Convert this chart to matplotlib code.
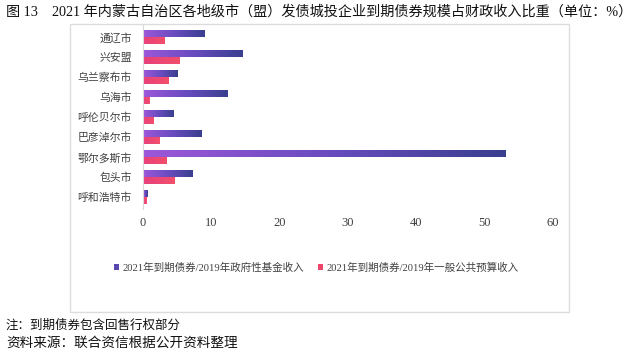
import numpy as np
import matplotlib
matplotlib.use("Agg")
import matplotlib.pyplot as plt
from matplotlib.colors import LinearSegmentedColormap
from matplotlib.patches import Rectangle

plt.rcParams['font.family'] = ['Liberation Serif', 'Noto Sans CJK SC', 'DejaVu Sans']

# data
cities = ['通辽市', '兴安盟', '乌兰察布市', '乌海市', '呼伦贝尔市',
          '巴彦淖尔市', '鄂尔多斯市', '包头市', '呼和浩特市']
fund_ratio = [9.0, 14.6, 5.0, 12.3, 4.4, 8.5, 53.0, 7.3, 0.6]
budget_ratio = [3.2, 5.4, 3.8, 1.0, 1.6, 2.4, 3.5, 4.6, 0.45]
xticks = [0, 10, 20, 30, 40, 50, 60]
label_fund = '2021年到期债券/2019年政府性基金收入'
label_budget = '2021年到期债券/2019年一般公共预算收入'
title = '图 13　2021 年内蒙古自治区各地级市（盟）发债城投企业到期债券规模占财政收入比重（单位：%）'
note = '注：到期债券包含回售行权部分'
source = '资料来源：联合资信根据公开资料整理'

purple_cmap = LinearSegmentedColormap.from_list('pur', ['#9d58da', '#6a4cc0', '#3a3f8f'])
pink_cmap = LinearSegmentedColormap.from_list('pnk', ['#e8407c', '#f24f6c'])

fig = plt.figure(figsize=(6.4, 3.54), dpi=100)

# outer light frame
fig.patches.append(Rectangle((70 / 640, 1 - 312 / 354), (569 - 70) / 640, (312 - 24) / 354,
                             transform=fig.transFigure, fill=False, edgecolor='#dcdcdc', lw=1.0))

ax = fig.add_axes([143 / 640, 1 - 209 / 354, 410 / 640, 184 / 354])

y = np.arange(len(cities))
h = 0.34
bars_f = ax.barh(y - 0.18, fund_ratio, height=h, color='#5a48b0', label=label_fund)
bars_b = ax.barh(y + 0.18, budget_ratio, height=h, color='#f0466e', label=label_budget)

grad = np.linspace(0, 1, 256).reshape(1, -1)
for bars, cmap in ((bars_f, purple_cmap), (bars_b, pink_cmap)):
    for b in bars:
        x0, y0 = b.get_x(), b.get_y()
        w, hh = b.get_width(), b.get_height()
        im = ax.imshow(grad, cmap=cmap, aspect='auto', extent=(x0, x0 + w, y0 + hh, y0),
                       zorder=b.get_zorder() + 0.1)
        im.set_clip_path(b)

ax.set_xlim(0, 60)
ax.set_ylim(8.6, -0.6)
ax.set_xticks(xticks)
ax.set_xticklabels([str(t) for t in xticks], fontsize=9, color='#404040')
ax.set_yticks(y)
ax.set_yticklabels(cities, fontsize=7.8, color='#404040')
ax.tick_params(axis='both', length=0)
ax.tick_params(axis='x', pad=6)
ax.tick_params(axis='y', pad=8)
for s in ['top', 'right', 'bottom']:
    ax.spines[s].set_visible(False)
ax.spines['left'].set_color('#d9d9d9')

leg = fig.legend(handles=[bars_f, bars_b], loc='center', bbox_to_anchor=(316 / 640, 1 - 268 / 354),
                 ncol=2, frameon=False, fontsize=7.6, handlelength=0.5, handleheight=0.5,
                 handletextpad=0.3, columnspacing=1.3, labelcolor='#404040')

fig.text(6 / 640, 1 - 12 / 354, title, fontsize=10.2, va='center', ha='left', color='#111111',
         fontweight='medium')
fig.text(6 / 640, 1 - 326 / 354, note, fontsize=9, va='center', ha='left', color='#111111')
fig.text(6 / 640, 1 - 343 / 354, source, fontsize=9.8, va='center', ha='left', color='#111111')

fig.savefig('out.png', dpi=100)
